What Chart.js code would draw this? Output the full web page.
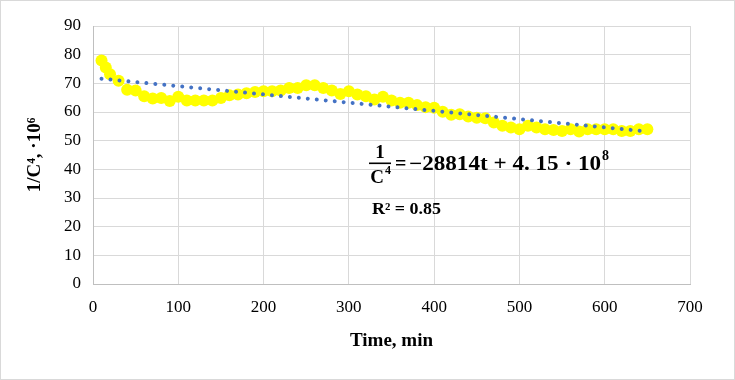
<!DOCTYPE html>
<html>
<head>
<meta charset="utf-8">
<script src="https://cdn.jsdelivr.net/npm/chart.js@4"></script>
<style>
	html, body { margin: 0; padding: 0; background: #fff; }
	#wrap { width: 735px; height: 380px; position: relative; }
</style>
</head>
<body>
<div id="wrap"><canvas id="chart-inverse-c4"></canvas></div>
<script>
// Measured points (time, min / 1/C^4 ·10^6)
const TIME = [10, 15, 20, 30, 40, 50, 60, 70, 80, 90, 100, 110, 120, 130, 140, 150, 160, 170, 180, 190,
	200, 210, 220, 230, 240, 250, 260, 270, 280, 290, 300, 310, 320, 330, 340, 350, 360, 370, 380, 390,
	400, 410, 420, 430, 440, 450, 460, 470, 480, 490, 500, 510, 520, 530, 540, 550, 560, 570, 580, 590,
	600, 610, 620, 630, 640, 650];
const INV_C4 = [78.0, 75.5, 73.2, 70.9, 67.8, 67.5, 65.5, 64.7, 64.9, 63.8, 65.3, 64.0, 64.0, 64.0, 64.0, 64.9, 65.8, 66.1, 66.5, 67.0,
	67.2, 67.2, 67.5, 68.4, 68.4, 69.3, 69.3, 68.4, 67.5, 66.3, 67.2, 66.1, 65.5, 64.4, 65.3, 64.0, 63.2, 63.2, 62.4, 61.7,
	61.5, 60.1, 59.0, 59.2, 58.4, 58.0, 57.8, 56.3, 55.2, 54.6, 54.0, 55.2, 54.6, 54.0, 53.7, 53.4, 54.0, 53.2, 54.0, 54.0,
	54.0, 54.0, 53.4, 53.4, 54.0, 54.0];

// Linear trendline end points
const TREND_TIME = [10, 650];
const TREND_VALUE = [71.6, 53.2];

// Axis ranges
const X_TICKS = [0, 100, 200, 300, 400, 500, 600, 700];
const Y_TICKS = [0, 10, 20, 30, 40, 50, 60, 70, 80, 90];

const FONT = "'Liberation Serif', 'DejaVu Serif', serif";
const GRID = "#d9d9d9";

const points = TIME.map((t, i) => ({ x: t, y: INV_C4[i] }));
const trend = TREND_TIME.map((t, i) => ({ x: t, y: TREND_VALUE[i] }));

// fit text to a given width (Palatino/Cambria are wider than Liberation)
const fitText = (ctx, text, x, y, targetWidth) => {
	const w = ctx.measureText(text).width;
	ctx.save();
	ctx.translate(x, y);
	ctx.scale(targetWidth / w, 1);
	ctx.fillText(text, 0, 0);
	ctx.restore();
};

// Frame + fit equation text
const annotations = {
	id: "annotations",
	beforeDraw(chart) {
		const { ctx, width, height } = chart;
		ctx.save();
		ctx.fillStyle = "#fff";
		ctx.fillRect(0, 0, width, height);
		ctx.restore();
	},
	afterDraw(chart) {
		const { ctx, width, height } = chart;
		ctx.save();
		ctx.strokeStyle = GRID;
		ctx.lineWidth = 1;
		ctx.strokeRect(0.5, 0.5, width - 1, height - 1);

		ctx.fillStyle = "#000";
		ctx.textBaseline = "alphabetic";
		// fraction 1 / C^4
		ctx.font = `bold 19px ${FONT}`;
		ctx.textAlign = "center";
		ctx.fillText("1", 380, 158);
		ctx.fillRect(369, 162.5, 22, 1.6);
		ctx.fillText("C", 377, 183);
		ctx.font = `bold 12px ${FONT}`;
		ctx.textAlign = "left";
		ctx.fillText("4", 385, 174);
		// right side
		ctx.font = `bold 20px ${FONT}`;
		ctx.fillText("=", 395, 170);
		fitText(ctx, "\u221228814t + 4. 15 \u00b7 10", 409, 170, 192);
		ctx.font = `bold 14px ${FONT}`;
		ctx.fillText("8", 602, 160);
		// R squared
		ctx.font = `bold 16px ${FONT}`;
		fitText(ctx, "R\u00b2 = 0.85", 372, 213.5, 69);
		ctx.restore();
	},
};

const CHART_CONFIG = {
	type: "scatter",
	data: {
		datasets: [
			{
				label: "Linear trend",
				data: trend,
				showLine: true,
				borderColor: "#4472c4",
				borderWidth: 4,
				borderDash: [0.01, 9],
				borderCapStyle: "round",
				pointRadius: 0,
				order: 0,
			},
			{
				label: "1/C4",
				data: points,
				showLine: false,
				pointRadius: 6,
				pointBackgroundColor: "#ffff00",
				pointBorderColor: "#ffff00",
				pointBorderWidth: 0,
				order: 1,
			},
		],
	},
	options: {
		responsive: false,
		animation: false,
		layout: {
			padding: { left: 0, right: 45, top: 26, bottom: 0 },
		},
		scales: {
			x: {
				type: "linear",
				min: X_TICKS[0],
				max: X_TICKS[X_TICKS.length - 1],
				afterBuildTicks: (scale) => {
					scale.ticks = X_TICKS.map((v) => ({ value: v }));
				},
				afterFit: (scale) => {
					scale.height = 96;
				},
				border: { color: "#bfbfbf" },
				grid: { color: GRID, drawTicks: false },
				ticks: {
					padding: 13,
					color: "#000",
					font: { family: FONT, size: 17 },
				},
				title: {
					display: true,
					text: "Time, min",
					color: "#000",
					font: { family: FONT, size: 19, weight: "bold" },
					padding: { top: 0, bottom: 28 },
				},
			},
			y: {
				min: Y_TICKS[0],
				max: Y_TICKS[Y_TICKS.length - 1],
				afterBuildTicks: (scale) => {
					scale.ticks = Y_TICKS.map((v) => ({ value: v }));
				},
				afterFit: (scale) => {
					scale.width = 93;
				},
				border: { color: "#bfbfbf" },
				grid: { color: GRID, drawTicks: false },
				ticks: {
					padding: 12,
					color: "#000",
					font: { family: FONT, size: 17 },
				},
				title: {
					display: true,
					text: "1/C\u2074, \u00b710\u2076",
					color: "#000",
					font: { family: FONT, size: 19, weight: "bold" },
					padding: { top: 24, bottom: 0 },
				},
			},
		},
		plugins: {
			legend: { display: false },
			tooltip: { enabled: false },
		},
	},
	plugins: [annotations],
};

const canvas = document.getElementById("chart-inverse-c4");
canvas.width = 735;
canvas.height = 380;
new Chart(canvas, CHART_CONFIG);
</script>
</body>
</html>
